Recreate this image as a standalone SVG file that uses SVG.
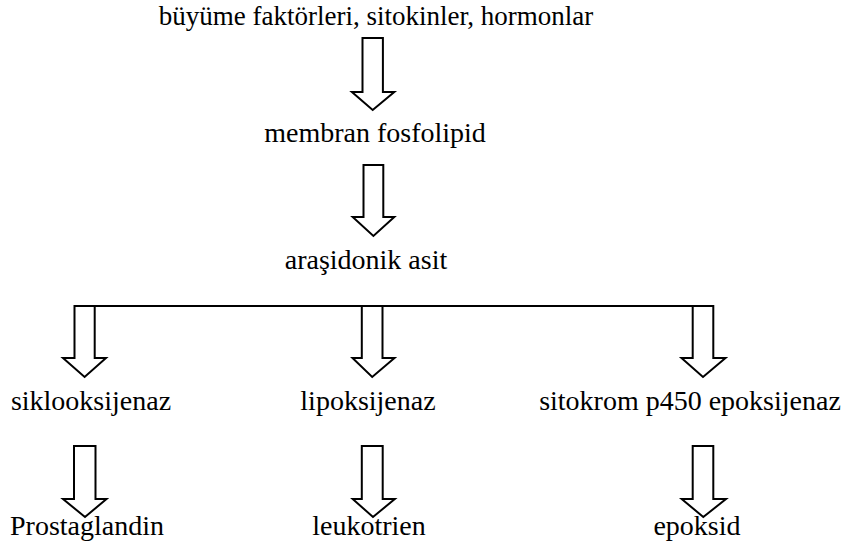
<svg xmlns="http://www.w3.org/2000/svg" width="848" height="550" viewBox="0 0 848 550">
<style>
.ar{fill:#fff;stroke:#000;stroke-width:2;stroke-linejoin:miter}
.ln{stroke:#000;stroke-width:2;fill:none}
</style>
<rect width="848" height="550" fill="#fff"/>
<g id="connectors">
<path class="ar" d="M362.5,38 H382.9 V92 H394.3 L372.7,110 L351.9,92 H362.5 Z"/>
<path class="ar" d="M363.5,165 H383.3 V217 H394.3 L373.4,236 L352.7,217 H363.5 Z"/>
<path class="ar" d="M74.5,306 H94.7 V358 H106 L84.6,377 L63,358 H74.5 Z"/>
<path class="ar" d="M361.8,306 H382.5 V358 H394.5 L372.2,377 L352.5,358 H361.8 Z"/>
<path class="ar" d="M692.7,306 H713.3 V358 H725.5 L703,377 L681.5,358 H692.7 Z"/>
<line class="ln" x1="74.5" y1="306" x2="713.3" y2="306"/>
<path class="ar" d="M74,446 H95.5 V499 H106.5 L85,517 L63,499 H74 Z"/>
<path class="ar" d="M361.8,446 H382.7 V499 H394.8 L373,517 L352.7,499 H361.8 Z"/>
<path class="ar" d="M692.7,446 H713.3 V499 H726 L703.3,517 L681.7,499 H692.7 Z"/>
</g>
<g id="n-top"><text x="376" y="25" font-family="Liberation Serif" font-size="27" text-anchor="middle" style="font-family:'Liberation Serif',serif">büyüme faktörleri, sitokinler, hormonlar</text></g>
<g id="n-membran"><text x="375" y="142" font-family="Liberation Serif" font-size="28" text-anchor="middle" style="font-family:'Liberation Serif',serif">membran fosfolipid</text></g>
<g id="n-arasidonik"><text x="366" y="269" font-family="Liberation Serif" font-size="28" text-anchor="middle" style="font-family:'Liberation Serif',serif">araşidonik asit</text></g>
<g id="n-siklo"><text x="91" y="410" font-family="Liberation Serif" font-size="28" text-anchor="middle" style="font-family:'Liberation Serif',serif">siklooksijenaz</text></g>
<g id="n-lipo"><text x="368" y="410" font-family="Liberation Serif" font-size="28" text-anchor="middle" style="font-family:'Liberation Serif',serif">lipoksijenaz</text></g>
<g id="n-sitokrom"><text x="690" y="410" font-family="Liberation Serif" font-size="28" text-anchor="middle" style="font-family:'Liberation Serif',serif">sitokrom p450 epoksijenaz</text></g>
<g id="n-prosta"><text x="87" y="535" font-family="Liberation Serif" font-size="28" text-anchor="middle" style="font-family:'Liberation Serif',serif">Prostaglandin</text></g>
<g id="n-leuko"><text x="369" y="535" font-family="Liberation Serif" font-size="28" text-anchor="middle" style="font-family:'Liberation Serif',serif">leukotrien</text></g>
<g id="n-epoksid"><text x="697" y="535" font-family="Liberation Serif" font-size="28" text-anchor="middle" style="font-family:'Liberation Serif',serif">epoksid</text></g>
</svg>
